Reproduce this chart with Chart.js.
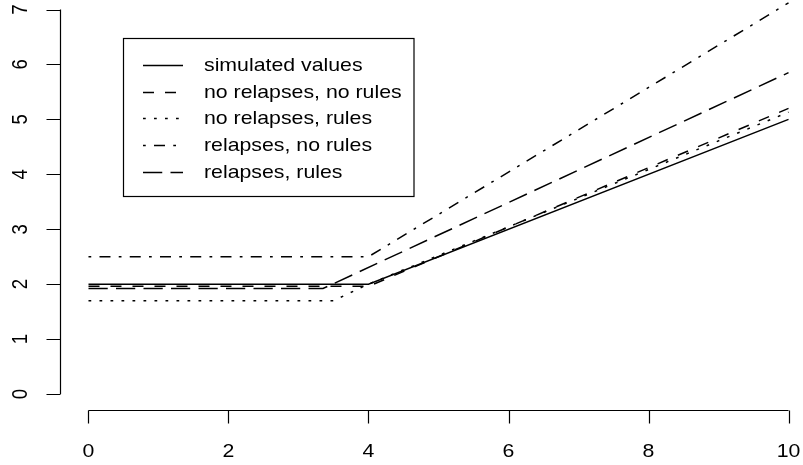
<!DOCTYPE html>
<html>
<head>
<meta charset="utf-8">
<script src="https://cdn.jsdelivr.net/npm/chart.js@4.4.1/dist/chart.umd.min.js"></script>
<style>
html, body { margin: 0; padding: 0; background: #fff; }
#contenedor { width: 803px; height: 465px; position: relative; }
</style>
</head>
<body>
<div id="contenedor"><canvas id="grafico"></canvas></div>
<script>
// ticks
const xTicks = [0, 2, 4, 6, 8, 10];
const yTicks = [0, 1, 2, 3, 4, 5, 6, 7];

// series (x breakpoints and values)
const simuladoX = [0, 4, 10];
const simuladoY = [2, 2, 5];
const nrNoReglasX = [0, 4, 10];
const nrNoReglasY = [1.96, 1.96, 5.2];
const nrReglasX = [0, 3.5, 4, 10];
const nrReglasY = [1.7, 1.7, 2.0, 5.13];
const rNoReglasX = [0, 4, 10];
const rNoReglasY = [2.5, 2.5, 7.12];
const rReglasX = [0, 3.35, 10];
const rReglasY = [1.92, 1.92, 5.85];

const etiquetas = ['simulated values', 'no relapses, no rules', 'no relapses, rules', 'relapses, no rules', 'relapses, rules'];
const trazos = [[], [11, 11], [2.75, 8.25], [2.75, 8.25, 11, 8.25], [19.25, 8.25]];

// el texto del original sale algo estirado en horizontal
const FUENTE = '18.6px "Liberation Sans", Arial, sans-serif';
const ESTIRADO = 1.145;

function puntos(xs, ys) {
    return xs.map((x, i) => ({ x: x, y: ys[i] }));
}

function texto(ctx, txt, x, y, rotado) {
    ctx.save();
    ctx.translate(x, y);
    if (rotado) {
        ctx.rotate(-Math.PI / 2);
        ctx.scale(1, ESTIRADO);
    } else {
        ctx.scale(ESTIRADO, 1);
    }
    ctx.fillText(txt, 0, 0);
    ctx.restore();
}

const seriesX = [simuladoX, nrNoReglasX, nrReglasX, rNoReglasX, rReglasX];
const seriesY = [simuladoY, nrNoReglasY, nrReglasY, rNoReglasY, rReglasY];

const datasets = etiquetas.map((lab, i) => ({
    label: lab,
    data: puntos(seriesX[i], seriesY[i]),
    borderColor: '#000',
    borderWidth: 1.5,
    borderDash: trazos[i],
    borderCapStyle: 'butt',
    pointRadius: 0,
    tension: 0,
    fill: false
}));

// ejes estilo R: linea solo entre el primer y ultimo tick
const ejesR = {
    id: 'ejesR',
    afterDraw(chart) {
        const ctx = chart.ctx;
        const xs = chart.scales.x, ys = chart.scales.y;
        const area = chart.chartArea;
        ctx.save();
        ctx.strokeStyle = '#000';
        ctx.lineWidth = 1.2;
        ctx.fillStyle = '#000';
        ctx.font = FUENTE;

        // eje x
        const yEje = area.bottom + 0.5;
        ctx.beginPath();
        ctx.moveTo(xs.getPixelForValue(xTicks[0]), yEje);
        ctx.lineTo(xs.getPixelForValue(xTicks[xTicks.length - 1]), yEje);
        xTicks.forEach(t => {
            const px = Math.round(xs.getPixelForValue(t)) + 0.5;
            ctx.moveTo(px, yEje);
            ctx.lineTo(px, yEje + 13);
        });
        ctx.stroke();
        ctx.textAlign = 'center';
        ctx.textBaseline = 'middle';
        xTicks.forEach(t => texto(ctx, String(t), xs.getPixelForValue(t), 452, false));

        // eje y
        const xEje = area.left + 0.5;
        ctx.beginPath();
        ctx.moveTo(xEje, ys.getPixelForValue(yTicks[0]));
        ctx.lineTo(xEje, ys.getPixelForValue(yTicks[yTicks.length - 1]));
        yTicks.forEach(t => {
            const py = Math.round(ys.getPixelForValue(t)) + 0.5;
            ctx.moveTo(xEje, py);
            ctx.lineTo(xEje - 14, py);
        });
        ctx.stroke();
        yTicks.forEach(t => texto(ctx, String(t), 21, ys.getPixelForValue(t), true));
        ctx.restore();
    }
};

// leyenda dentro del area, con recuadro
const leyendaR = {
    id: 'leyendaR',
    afterDraw(chart) {
        const ctx = chart.ctx;
        ctx.save();
        ctx.strokeStyle = '#000';
        ctx.lineWidth = 1.2;
        ctx.strokeRect(123.5, 38.5, 290.5, 158);
        ctx.font = FUENTE;
        ctx.fillStyle = '#000';
        ctx.textAlign = 'left';
        ctx.textBaseline = 'middle';
        chart.data.datasets.forEach((ds, i) => {
            const y = Math.round(65 + i * 26.7) + 0.5;
            ctx.beginPath();
            ctx.lineWidth = 1.5;
            ctx.setLineDash(ds.borderDash);
            ctx.moveTo(143, y);
            ctx.lineTo(183, y);
            ctx.stroke();
            ctx.setLineDash([]);
            texto(ctx, ds.label, 204, y, false);
        });
        ctx.restore();
    }
};

new Chart(document.getElementById('grafico'), {
    type: 'line',
    data: { datasets: datasets },
    options: {
        responsive: true,
        maintainAspectRatio: false,
        animation: false,
        layout: { padding: { left: 60, right: 0, top: 0, bottom: 55 } },
        plugins: { legend: { display: false }, tooltip: { enabled: false } },
        scales: {
            x: { type: 'linear', min: -0.407, max: 10.207, display: false },
            y: { type: 'linear', min: -0.291, max: 7.173, display: false }
        }
    },
    plugins: [ejesR, leyendaR]
});
</script>
</body>
</html>
